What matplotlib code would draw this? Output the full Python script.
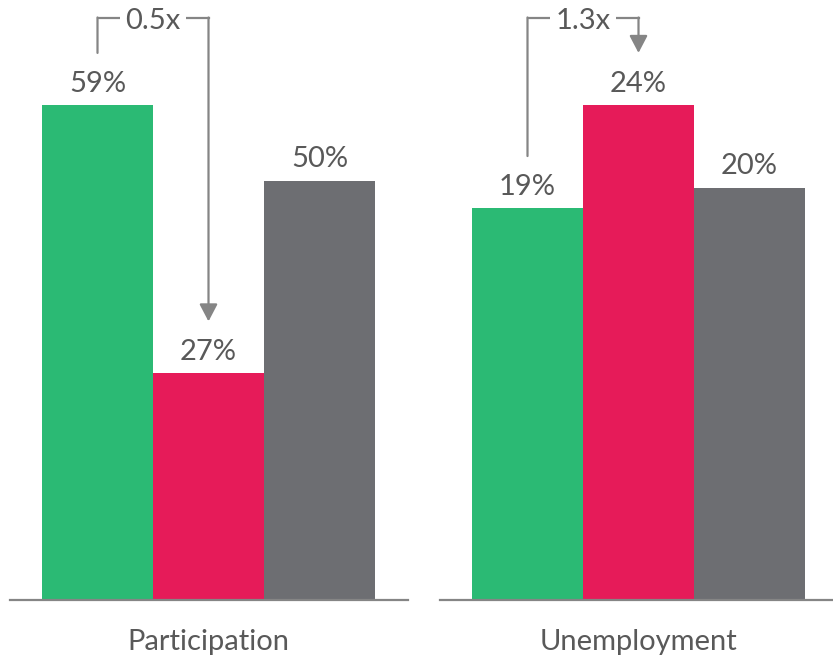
import matplotlib
matplotlib.use('Agg')

import matplotlib.pyplot as plt

plt.rcParams['font.family'] = ['Lato', 'DejaVu Sans']

# Shares (%) for the three groups in each panel
groups = ['Group A', 'Group B', 'Group C']
participation = [59, 27, 50]
unemployment = [19, 24, 20]

panel_titles = ['Participation', 'Unemployment']
ratio_labels = ['0.5x', '1.3x']
# which bars the ratio bracket links (from, to)
ratio_pairs = [(0, 1), (0, 1)]

colors = ['#2bba74', '#e61b59', '#6d6e72']
text_color = '#595959'
line_color = '#858585'

fig = plt.figure(figsize=(8.33, 6.57), dpi=100)

W, H = 833, 657
base_px = 600          # baseline, pixels from top
top_bar_px = 105       # top of the tallest bar
bar_px = 111           # bar width in pixels
fs = 21

panels = [
    (participation, 10, 398),
    (unemployment, 440, 393),
]

for (values, left_px, width_px), title, rlabel, (i0, i1) in zip(
        panels, panel_titles, ratio_labels, ratio_pairs):
    ax = fig.add_axes([left_px / W, 1 - base_px / H, width_px / W, base_px / H])
    x = list(range(len(values)))
    ax.bar(x, values, width=1.0, color=colors)

    xmin = -0.5 - 32 / bar_px
    ax.set_xlim(xmin, xmin + width_px / bar_px)
    ax.set_ylim(0, max(values) * base_px / (base_px - top_bar_px))

    for s in ['top', 'right', 'left']:
        ax.spines[s].set_visible(False)
    ax.spines['bottom'].set_color(line_color)
    ax.spines['bottom'].set_linewidth(1.6)
    ax.set_xticks([])
    ax.set_yticks([])

    # value labels
    for xi, v in zip(x, values):
        ax.annotate(f'{v}%', xy=(xi, v), xytext=(0, 9.5), textcoords='offset points',
                    ha='center', va='baseline', fontsize=fs, color=text_color)

    # ratio bracket
    y_line = (base_px - 17.5) / base_px
    trans = ax.get_xaxis_transform()
    ax.annotate('', xy=(i0, values[i0]), xytext=(i0, y_line),
                textcoords=('data', 'axes fraction'),
                arrowprops=dict(arrowstyle='-', shrinkA=0, shrinkB=37.5,
                                color=line_color, lw=1.6))
    ax.annotate('', xy=(i1, values[i1]), xytext=(i1, y_line),
                textcoords=('data', 'axes fraction'),
                arrowprops=dict(arrowstyle='-|>,head_length=1.05,head_width=0.55',
                                shrinkA=0, shrinkB=37.5,
                                color=line_color, lw=1.6))
    ax.plot([i0, i1], [y_line, y_line], transform=trans, color=line_color,
            lw=1.6, clip_on=False, solid_capstyle='projecting')
    ax.text((i0 + i1) / 2, (base_px - 29) / base_px, rlabel, transform=trans,
            ha='center', va='baseline', fontsize=fs, color=text_color,
            bbox=dict(boxstyle='square,pad=0.2', fc='white', ec='none'))

    # panel title under the baseline
    ax.text(1, -(650 - base_px) / base_px, title, transform=trans,
            ha='center', va='baseline', fontsize=fs, color=text_color)

fig.savefig('out.png', dpi=100)
